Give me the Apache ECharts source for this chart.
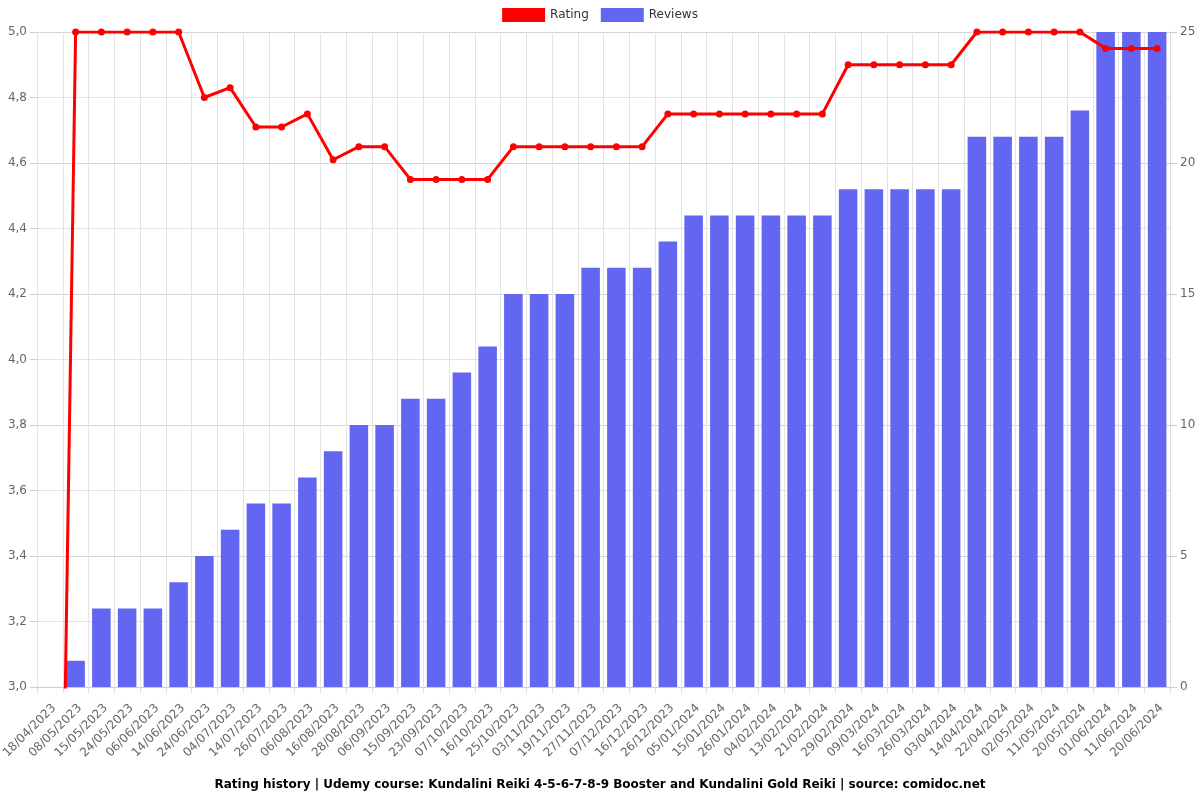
<!DOCTYPE html>
<html>
<head>
<meta charset="utf-8">
<script src="https://cdn.jsdelivr.net/npm/echarts@6/dist/echarts.min.js"></script>
<style>html,body{margin:0;padding:0;background:#fff;}#c{width:1200px;height:800px;}</style>
</head>
<body>
<div id="c"></div>
<script>
const categories = ["18/04/2023","08/05/2023","15/05/2023","24/05/2023","06/06/2023","14/06/2023","24/06/2023","04/07/2023","14/07/2023","26/07/2023","06/08/2023","16/08/2023","28/08/2023","06/09/2023","15/09/2023","23/09/2023","07/10/2023","16/10/2023","25/10/2023","03/11/2023","19/11/2023","27/11/2023","07/12/2023","16/12/2023","26/12/2023","05/01/2024","15/01/2024","26/01/2024","04/02/2024","13/02/2024","21/02/2024","29/02/2024","09/03/2024","16/03/2024","26/03/2024","03/04/2024","14/04/2024","22/04/2024","02/05/2024","11/05/2024","20/05/2024","01/06/2024","11/06/2024","20/06/2024"];
const rating = [0,5,5,5,5,5,4.8,4.83,4.71,4.71,4.75,4.61,4.65,4.65,4.55,4.55,4.55,4.55,4.65,4.65,4.65,4.65,4.65,4.65,4.75,4.75,4.75,4.75,4.75,4.75,4.75,4.9,4.9,4.9,4.9,4.9,5,5,5,5,5,4.95,4.95,4.95];
const reviews = [0,1,3,3,3,4,5,6,7,7,8,9,10,10,11,11,12,13,15,15,15,16,16,16,17,18,18,18,18,18,18,19,19,19,19,19,21,21,21,21,22,25,25,25];
const titleText = "Rating history | Udemy course: Kundalini Reiki 4-5-6-7-8-9 Booster and Kundalini Gold Reiki | source: comidoc.net";

const chart = echarts.init(document.getElementById('c'));
const gridColor = '#e3e3e3';
chart.setOption({
  animation: false,
  textStyle: { fontFamily: 'DejaVu Sans' },
  title: {
    text: titleText, left: 'center', bottom: 4,
    textStyle: { fontSize: 12, fontWeight: 'bold', color: '#000', fontFamily: 'DejaVu Sans' }
  },
  legend: {
    top: 3, left: 'center', icon: 'rect', itemWidth: 43, itemHeight: 14, itemGap: 12,
    textStyle: { fontSize: 12, color: '#333' },
    data: ['Rating', 'Reviews']
  },
  grid: { left: 37, right: 30, top: 32, bottom: 113, containLabel: false, outerBoundsMode: 'none' },
  xAxis: {
    type: 'category', data: categories, boundaryGap: true,
    axisLine: { lineStyle: { color: '#ccc' } },
    axisTick: { show: true, lineStyle: { color: '#ddd' }, length: 6 },
    axisLabel: { rotate: 45, interval: 0, fontSize: 12, color: '#666', margin: 15, verticalAlign: 'top' },
    splitLine: { show: true, lineStyle: { color: gridColor } }
  },
  yAxis: [
    {
      type: 'value', min: 3, max: 5, interval: 0.2, position: 'left',
      axisLine: { show: false },
      axisTick: { show: true, length: 7, lineStyle: { color: '#ccc' } },
      axisLabel: { fontSize: 12, color: '#666', margin: 10, formatter: v => v.toFixed(1).replace('.', ',') },
      splitLine: { show: true, lineStyle: { color: gridColor } }
    },
    {
      type: 'value', min: 0, max: 25, interval: 5, position: 'right',
      axisLine: { show: true, lineStyle: { color: '#ddd' } },
      axisTick: { show: true, length: 7, lineStyle: { color: '#ccc' } },
      axisLabel: { fontSize: 12, color: '#666', margin: 10 },
      splitLine: { show: true, lineStyle: { color: '#d6d6d6' } }
    }
  ],
  series: [
    {
      name: 'Rating', type: 'line', yAxisIndex: 0, data: rating, z: 5,
      color: '#ff0000', clip: true,
      lineStyle: { width: 3, color: '#ff0000' },
      symbol: 'circle', symbolSize: 7, showSymbol: true,
      itemStyle: { color: '#ff0000' }
    },
    {
      name: 'Reviews', type: 'bar', yAxisIndex: 1, data: reviews, z: 2,
      color: '#6366f1', barCategoryGap: '28%',
      itemStyle: { color: '#6366f1' }
    }
  ]
});
</script>
</body>
</html>
